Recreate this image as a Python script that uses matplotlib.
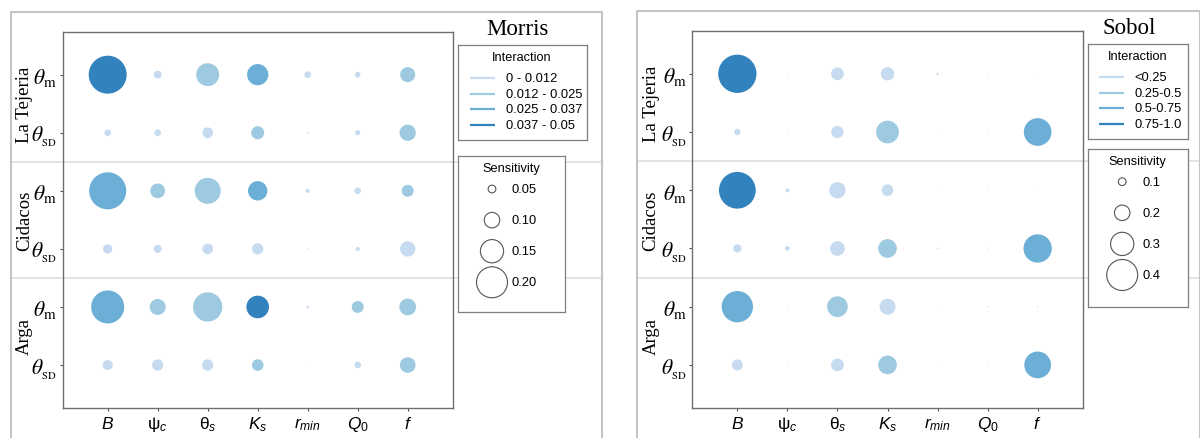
import numpy as np
import matplotlib.pyplot as plt
from matplotlib.transforms import blended_transform_factory

plt.rcParams['mathtext.fontset'] = 'custom'
plt.rcParams['mathtext.rm'] = 'Liberation Sans'
plt.rcParams['mathtext.it'] = 'Liberation Sans:italic'
plt.rcParams['mathtext.bf'] = 'Liberation Sans:bold'

W, H = 1200, 439

# parameters (columns) and outputs (rows, top to bottom)
params = [r'$B$', r'$\mathrm{\psi}_c$', r'$\mathrm{\theta}_s$', r'$K_s$',
          r'$r_{min}$', r'$Q_0$', r'$f$']
outputs = [r'$\theta_{\mathrm{m}}$', r'$\theta_{_{\mathrm{SD}}}$'] * 3
catchments = ['La Tejeria', 'Cidacos', 'Arga']

blues = ['#c6dbef', '#9ecae1', '#6baed6', '#3182bd']

# Morris: sensitivity and interaction class (0..3)
morris_sens = [
    [0.245, 0.050, 0.148, 0.137, 0.043, 0.037, 0.097],
    [0.043, 0.043, 0.069, 0.084, 0.011, 0.034, 0.105],
    [0.239, 0.095, 0.168, 0.125, 0.026, 0.043, 0.077],
    [0.060, 0.052, 0.069, 0.073, 0.008, 0.026, 0.099],
    [0.213, 0.103, 0.189, 0.146, 0.017, 0.077, 0.108],
    [0.065, 0.073, 0.073, 0.075, 0.006, 0.043, 0.101],
]
morris_class = [
    [3, 0, 1, 2, 0, 0, 1],
    [0, 0, 0, 1, 0, 0, 1],
    [2, 1, 1, 2, 0, 0, 1],
    [0, 0, 0, 0, 0, 0, 0],
    [2, 1, 1, 3, 0, 1, 1],
    [0, 0, 0, 1, 0, 0, 1],
]
morris_bins = ['0 - 0.012', '0.012 - 0.025', '0.025 - 0.037', '0.037 - 0.05']
morris_keys = [0.05, 0.10, 0.15, 0.20]

# Sobol: total index and interaction class (0..3)
sobol_sens = [
    [0.494, 0.013, 0.164, 0.172, 0.030, 0.013, 0.013],
    [0.081, 0.013, 0.159, 0.293, 0.013, 0.013, 0.357],
    [0.474, 0.048, 0.210, 0.151, 0.013, 0.013, 0.013],
    [0.107, 0.061, 0.190, 0.241, 0.017, 0.013, 0.365],
    [0.404, 0.013, 0.267, 0.206, 0.013, 0.017, 0.017],
    [0.142, 0.013, 0.164, 0.241, 0.013, 0.013, 0.345],
]
sobol_class = [
    [3, 0, 0, 0, 0, 0, 0],
    [0, 0, 0, 1, 0, 0, 2],
    [3, 0, 0, 0, 0, 0, 0],
    [0, 0, 0, 1, 0, 0, 2],
    [2, 0, 1, 0, 0, 0, 0],
    [0, 0, 0, 1, 0, 0, 2],
]
sobol_bins = ['<0.25', '0.25-0.5', '0.5-0.75', '0.75-1.0']
sobol_keys = [0.1, 0.2, 0.3, 0.4]


def px_box(x0, y0, x1, y1):
    return [x0 / W, 1 - y1 / H, (x1 - x0) / W, (y1 - y0) / H]


def marker_area(v, k):
    # diameter in pixels is k * value, scatter wants points^2
    d_pt = k * np.asarray(v) * 72 / 100
    return d_pt ** 2


def draw_panel(fig, sens, cls, bins, keys, k, key_fmt, title, g):
    sens = np.array(sens)
    cls = np.array(cls)
    nr, nc = sens.shape

    ax = fig.add_axes(px_box(*g['plot']))
    ax.set_facecolor('none')
    xx, yy = np.meshgrid(np.arange(nc), np.arange(nr))
    cols = np.array(blues)[cls.ravel()]
    ax.scatter(xx.ravel(), yy.ravel(), s=marker_area(sens.ravel(), k),
               c=cols, edgecolors='none', zorder=3)
    ax.set_xlim(-0.9, nc - 0.1)
    ax.set_ylim(nr - 0.26, -0.74)
    ax.set_xticks(range(nc))
    ax.set_xticklabels(params, fontsize=12.5, math_fontfamily='custom')
    ax.set_yticks(range(nr))
    ax.set_yticklabels(outputs, fontsize=15.5, math_fontfamily='stix')
    ax.tick_params(length=2.5, width=0.8, color='#555555', pad=1.5)
    ax.tick_params(axis='x', pad=2)
    for sp in ax.spines.values():
        sp.set_color('#6e6e6e')
        sp.set_linewidth(1.0)

    # grey separators between catchments, across the whole panel
    fx0, fx1 = g['frame'][0] / W, g['frame'][1] / W
    tr = blended_transform_factory(fig.transFigure, ax.transData)
    for yb in [1.5, 3.5]:
        ax.plot([fx0, fx1], [yb, yb], transform=tr, color='#dedede',
                lw=1.2, clip_on=False, zorder=1)
    for i, name in enumerate(catchments):
        ax.text(g['catch_x'] / W, 2 * i + 0.5, name, transform=tr,
                rotation=90, ha='center', va='center',
                family='Liberation Serif', fontsize=13.5)

    # panel frame
    fl, fr = g['frame']
    ft = g['frame_top']
    fig.add_artist(plt.Line2D([fl / W, fl / W, fr / W, fr / W],
                              [0, 1 - ft / H, 1 - ft / H, 0],
                              transform=fig.transFigure, color='#c4c4c4',
                              lw=1.5))

    fig.text(g['title'][0] / W, 1 - g['title'][1] / H, title,
             family='Liberation Serif', fontsize=16.5,
             ha='center', va='center')

    # interaction legend
    b = g['inter']
    la = fig.add_axes(px_box(*b))
    w, h = b[2] - b[0], b[3] - b[1]
    la.set_xlim(0, w)
    la.set_ylim(h, 0)
    la.set_xticks([])
    la.set_yticks([])
    for sp in la.spines.values():
        sp.set_color('#7f7f7f')
        sp.set_linewidth(0.9)
    la.text(g['inter_tx'], 12.3, 'Interaction', ha='center', va='center',
            family='Liberation Sans', fontsize=9.2)
    for i, (lab, c) in enumerate(zip(bins, blues)):
        y = 33 + 15.6 * i
        la.plot([g['inter_lx'], g['inter_lx'] + 24.5], [y, y], color=c,
                lw=1.6, solid_capstyle='butt')
        la.text(g['inter_lx'] + 35.5, y, lab, ha='left', va='center',
                family='Liberation Sans', fontsize=9.3)

    # sensitivity legend
    b = g['sens']
    sa = fig.add_axes(px_box(*b))
    w, h = b[2] - b[0], b[3] - b[1]
    sa.set_xlim(0, w)
    sa.set_ylim(h, 0)
    sa.set_xticks([])
    sa.set_yticks([])
    for sp in sa.spines.values():
        sp.set_color('#7f7f7f')
        sp.set_linewidth(0.9)
    sa.text(g['sens_tx'], 11.8, 'Sensitivity', ha='center', va='center',
            family='Liberation Sans', fontsize=9.2)
    ky = 32.7 + 31.1 * np.arange(len(keys))
    sa.scatter(np.full(len(keys), g['sens_cx']), ky,
               s=marker_area(keys, k), facecolors='none',
               edgecolors='#555555', linewidths=0.8)
    for y, v in zip(ky, keys):
        sa.text(g['sens_cx'] + 20, y, key_fmt.format(v), ha='left',
                va='center', family='Liberation Sans', fontsize=9.3)


fig = plt.figure(figsize=(W / 100, H / 100), dpi=100)
fig.patch.set_facecolor('white')

left = dict(plot=(62.7, 32.7, 452.7, 409), frame=(10.7, 601.7),
            frame_top=12.7, catch_x=24.5, title=(517, 29.5),
            inter=(458, 46, 587.3, 141), inter_tx=63.7, inter_lx=12,
            sens=(458, 157.3, 565, 313), sens_tx=53, sens_cx=34)
right = dict(plot=(692.3, 31.7, 1082.7, 409), frame=(637.3, 1200),
             frame_top=12, catch_x=651.2, title=(1129, 28.5),
             inter=(1087.7, 45, 1188.3, 140.3), inter_tx=49.6, inter_lx=11.6,
             sens=(1087.7, 150, 1188.3, 307.7), sens_tx=49.6, sens_cx=34.5)

draw_panel(fig, morris_sens, morris_class, morris_bins, morris_keys,
           155, '{:.2f}', 'Morris', left)
draw_panel(fig, sobol_sens, sobol_class, sobol_bins, sobol_keys,
           77.5, '{:.1f}', 'Sobol', right)

fig.savefig('out.png', dpi=100)
